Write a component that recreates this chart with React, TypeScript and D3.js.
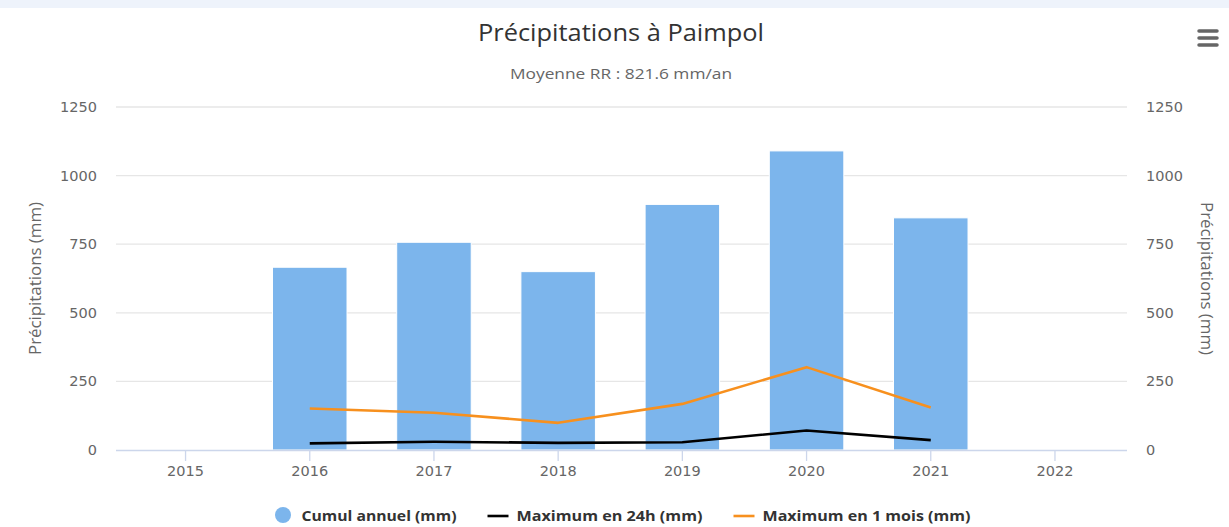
import React from "react";
import * as d3 from "d3";

const years = [2015, 2016, 2017, 2018, 2019, 2020, 2021, 2022];
const dataYears = [2016, 2017, 2018, 2019, 2020, 2021];
const cumulAnnuel = [666, 757, 650, 895, 1090, 846];
const max24h = [24, 30, 26, 28, 71, 36];
const max1mois = [151, 136, 99, 168, 302, 155];
const yTicks = [0, 250, 500, 750, 1000, 1250];

const W = 1229;
const H = 527;
const plotLeft = 116;
const plotRight = 1127;
const plotTop = 107;
const plotBottom = 450;

const BAR = "#7cb5ec";
const ORANGE = "#f7901e";
const BLACK = "#000000";
const GRID = "#e6e6e6";
const AXIS = "#ccd6eb";
const LABEL = "#666666";

const legendItems = [
  { name: "Cumul annuel (mm)", kind: "circle", color: BAR, textW: 155 },
  { name: "Maximum en 24h (mm)", kind: "line", color: BLACK, textW: 186 },
  { name: "Maximum en 1 mois (mm)", kind: "line", color: ORANGE, textW: 208 },
];

export default function App() {
  const x = d3.scaleLinear().domain([2014.44, 2022.58]).range([plotLeft, plotRight]);
  const y = d3.scaleLinear().domain([0, 1250]).range([plotBottom, plotTop]);
  const step = x(1) - x(0);
  const barW = step * 0.6;

  const line = d3
    .line<[number, number]>()
    .x((d) => x(d[0]))
    .y((d) => y(d[1]));

  const pts24 = dataYears.map((yr, i) => [yr, max24h[i]] as [number, number]);
  const ptsMois = dataYears.map((yr, i) => [yr, max1mois[i]] as [number, number]);

  // legend layout
  const symW = 21;
  const gapSym = 8;
  const gapItem = 31;
  const totalW = legendItems.reduce((s, it) => s + symW + gapSym + it.textW, 0) + gapItem * (legendItems.length - 1);
  let lx = (plotLeft + plotRight) / 2 - totalW / 2;
  const legendY = 515;
  const legendLayout = legendItems.map((it) => {
    const start = lx;
    lx += symW + gapSym + it.textW + gapItem;
    return { ...it, start };
  });

  const sans = "'Open Sans', 'DejaVu Sans', sans-serif";
  const tickFont = "'DejaVu Sans', 'Open Sans', sans-serif";

  return (
    <div style={{ position: "absolute", left: 0, top: 0, width: W, height: H, background: "#fff" }}>
      <svg width={W} height={H} style={{ display: "block" }}>
        <rect x={0} y={0} width={W} height={H} fill="#ffffff" />
        <rect x={0} y={0} width={W} height={8} fill="#eef3fb" />

        {/* title */}
        <text x={621} y={41} textAnchor="middle" fontFamily={sans} fontSize={24} fill="#333333" textLength={286} lengthAdjust="spacingAndGlyphs">
          Précipitations à Paimpol
        </text>
        <text x={621} y={79} textAnchor="middle" fontFamily={sans} fontSize={15} fill={LABEL} textLength={222} lengthAdjust="spacingAndGlyphs">
          Moyenne RR : 821.6 mm/an
        </text>

        {/* menu icon */}
        {[0, 1, 2].map((i) => (
          <line key={i} x1={1199} x2={1217} y1={31 + i * 7} y2={31 + i * 7} stroke="#666666" strokeWidth={3.5} strokeLinecap="round" />
        ))}

        {/* gridlines */}
        {yTicks.filter((t) => t > 0).map((t) => (
          <line key={t} x1={plotLeft} x2={plotRight} y1={y(t)} y2={y(t)} stroke={GRID} strokeWidth={1.3} />
        ))}

        {/* bars */}
        {dataYears.map((yr, i) => (
          <rect
            key={yr}
            x={x(yr) - barW / 2}
            y={y(cumulAnnuel[i])}
            width={barW}
            height={y(0) - y(cumulAnnuel[i])}
            fill={BAR}
            stroke="#ffffff"
            strokeWidth={1}
          />
        ))}

        {/* x axis */}
        <line x1={plotLeft} x2={plotRight} y1={plotBottom + 0.5} y2={plotBottom + 0.5} stroke={AXIS} strokeWidth={1.5} />
        {years.map((yr) => (
          <g key={yr}>
            <line x1={x(yr)} x2={x(yr)} y1={plotBottom} y2={plotBottom + 11} stroke={AXIS} strokeWidth={1.3} />
            <text x={x(yr)} y={476} textAnchor="middle" fontFamily={tickFont} fontSize={14.5} fill={LABEL}>
              {yr}
            </text>
          </g>
        ))}

        {/* lines */}
        <path d={line(ptsMois) || ""} fill="none" stroke={ORANGE} strokeWidth={2.6} strokeLinejoin="round" />
        <path d={line(pts24) || ""} fill="none" stroke={BLACK} strokeWidth={2.6} strokeLinejoin="round" />

        {/* y axis labels */}
        {yTicks.map((t) => (
          <g key={t}>
            <text x={97} y={y(t) + 5} textAnchor="end" fontFamily={tickFont} fontSize={14.5} fill={LABEL}>
              {t}
            </text>
            <text x={1146} y={y(t) + 5} textAnchor="start" fontFamily={tickFont} fontSize={14.5} fill={LABEL}>
              {t}
            </text>
          </g>
        ))}

        {/* axis titles */}
        <text
          transform={`translate(35, ${(plotTop + plotBottom) / 2}) rotate(-90)`}
          textAnchor="middle"
          dominantBaseline="central"
          fontFamily={sans}
          fontSize={16}
          fill={LABEL}
          textLength={153}
          lengthAdjust="spacingAndGlyphs"
        >
          Précipitations (mm)
        </text>
        <text
          transform={`translate(1207, ${(plotTop + plotBottom) / 2}) rotate(90)`}
          textAnchor="middle"
          dominantBaseline="central"
          fontFamily={sans}
          fontSize={16}
          fill={LABEL}
          textLength={153}
          lengthAdjust="spacingAndGlyphs"
        >
          Précipitations (mm)
        </text>

        {/* legend */}
        {legendLayout.map((it) => (
          <g key={it.name}>
            {it.kind === "circle" ? (
              <circle cx={it.start + symW / 2} cy={legendY} r={8} fill={it.color} />
            ) : (
              <line x1={it.start} x2={it.start + symW} y1={legendY + 1} y2={legendY + 1} stroke={it.color} strokeWidth={2.6} />
            )}
            <text
              x={it.start + symW + gapSym}
              y={legendY + 6}
              fontFamily={sans}
              fontSize={15}
              fontWeight="bold"
              fill="#333333"
              textLength={it.textW}
              lengthAdjust="spacingAndGlyphs"
            >
              {it.name}
            </text>
          </g>
        ))}
      </svg>
    </div>
  );
}
